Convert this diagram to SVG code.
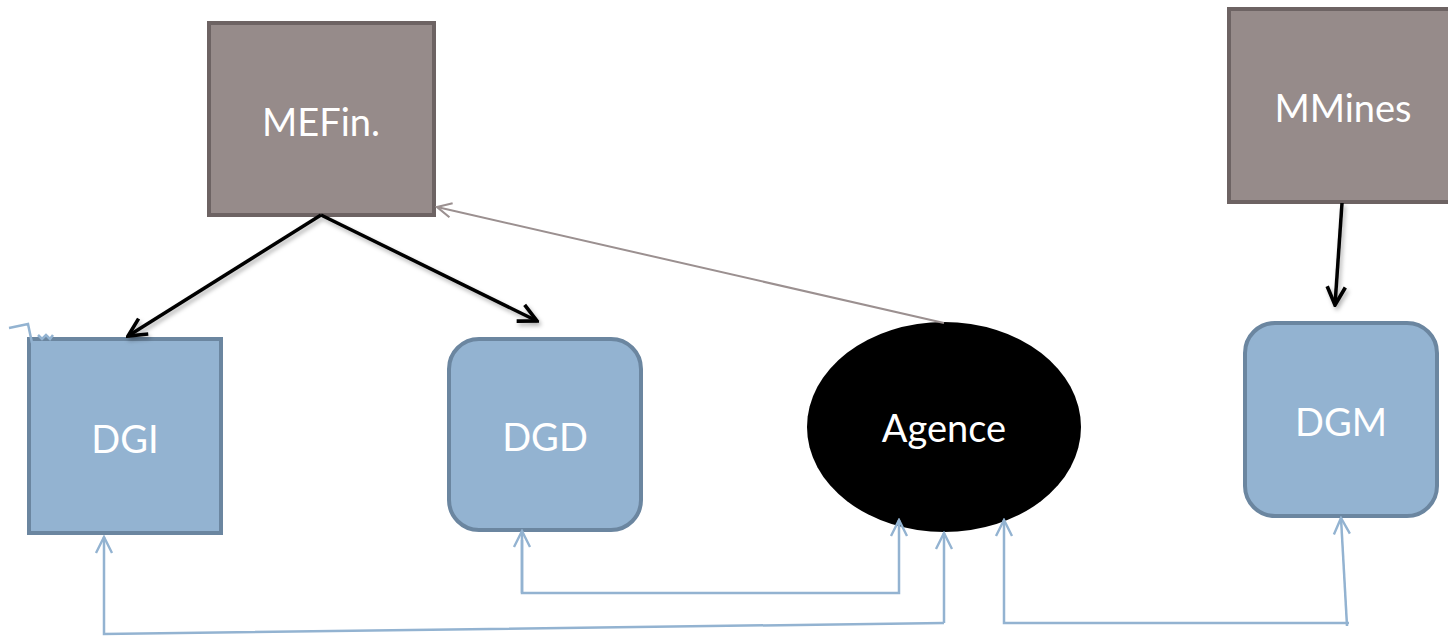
<svg xmlns="http://www.w3.org/2000/svg" width="1448" height="638" viewBox="0 0 1448 638">
<style>
.brown{fill:#968b8a;stroke:#6d6363;stroke-width:4}
.blue{fill:#93b3d1;stroke:#6b86a0;stroke-width:4}
.lbl{font-family:"Lato","Liberation Sans",sans-serif;font-size:38px;fill:#ffffff;text-anchor:middle}
.blk{fill:none;stroke:#000;stroke-width:3.5}
.gry{fill:none;stroke:#9b9090;stroke-width:2}
.lb{fill:none;stroke:#93b3d1;stroke-width:2.5}
</style>
<defs>
<marker id="ah" viewBox="0 0 10 10" refX="9" refY="5" markerWidth="6.5" markerHeight="6.5" orient="auto" markerUnits="strokeWidth">
<path d="M1,1 L9,5 L1,9" fill="none" stroke="#000" stroke-width="1.6"/>
</marker>
<marker id="ag" viewBox="0 0 10 10" refX="9" refY="5" markerWidth="9" markerHeight="9" orient="auto" markerUnits="strokeWidth">
<path d="M1,1 L9,5 L1,9" fill="none" stroke="#9b9090" stroke-width="1.2"/>
</marker>
<marker id="ab" viewBox="0 0 10 10" refX="9" refY="5" markerWidth="8" markerHeight="8" orient="auto" markerUnits="strokeWidth">
<path d="M1,1 L9,5 L1,9" fill="none" stroke="#93b3d1" stroke-width="1.2"/>
</marker>
<filter id="sh" x="-20%" y="-20%" width="140%" height="140%">
<feDropShadow dx="2" dy="3" stdDeviation="2" flood-color="#000" flood-opacity="0.3"/>
</filter>
</defs>
<g id="MEFin">
<rect class="brown" x="209" y="23" width="225" height="192"/>
<text class="lbl" x="321" y="136">MEFin.</text>
</g>
<g id="MMines">
<rect class="brown" x="1229" y="9" width="224" height="193"/>
<text class="lbl" x="1343" y="122">MMines</text>
</g>
<g id="DGI">
<rect class="blue" x="29" y="339" width="192" height="194"/>
<text class="lbl" x="125" y="453">DGI</text>
</g>
<g id="DGD">
<rect class="blue" x="449" y="339" width="192" height="191" rx="30"/>
<text class="lbl" x="545" y="451">DGD</text>
</g>
<g id="Agence">
<ellipse cx="944" cy="427" rx="137" ry="105" fill="#000"/>
<text class="lbl" x="944" y="442">Agence</text>
</g>
<g id="DGM">
<rect class="blue" x="1245" y="323" width="192" height="193" rx="30"/>
<text class="lbl" x="1341" y="436">DGM</text>
</g>
<g id="connectors">
<g filter="url(#sh)">
<line class="blk" x1="321" y1="215" x2="128" y2="336" marker-end="url(#ah)"/>
<line class="blk" x1="321" y1="215" x2="537" y2="321" marker-end="url(#ah)"/>
<line class="blk" x1="1342" y1="203" x2="1335" y2="305" marker-end="url(#ah)"/>
</g>
<line class="gry" x1="944" y1="323" x2="437" y2="207" marker-end="url(#ag)"/>
<polyline class="lb" points="944,623 104,634 104,537" marker-end="url(#ab)"/>
<line class="lb" x1="944" y1="623" x2="944" y2="533" marker-end="url(#ab)"/>
<polyline class="lb" points="522,540 522,593 899,593 899,520" marker-end="url(#ab)"/>
<line class="lb" x1="522" y1="593" x2="522" y2="531" marker-end="url(#ab)"/>
<polyline class="lb" points="1349,623 1004,623 1004,520" marker-end="url(#ab)"/>
<line class="lb" x1="1347" y1="626" x2="1341" y2="518" marker-end="url(#ab)"/>
<polyline class="lb" points="9,328 28,324 32,343"/>
<polyline class="lb" points="38,335 42,339 46,335 50,339 53,335"/>
</g>
</svg>
